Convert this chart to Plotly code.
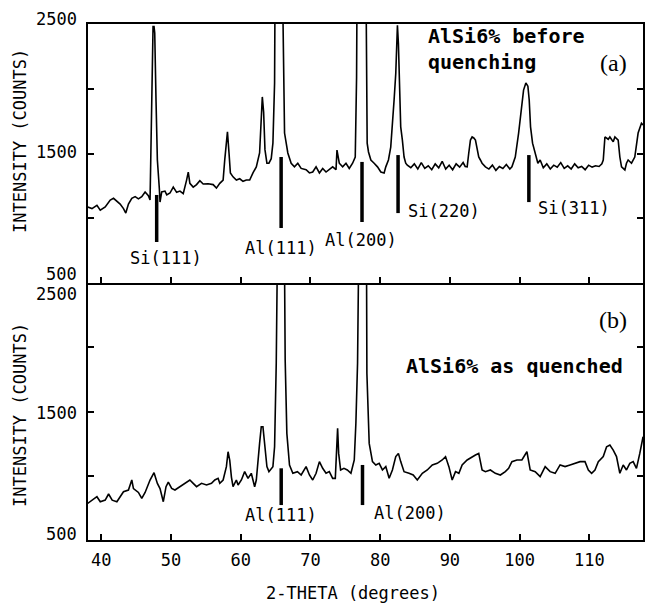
import plotly.graph_objects as go

# ---------------- data ----------------
two_theta_a = [38.05, 38.67, 39.38, 39.86, 40.57, 41.05, 41.29, 41.76, 42.24, 42.71, 43.19, 43.52, 43.90,
               44.38, 44.86, 45.33, 45.81, 46.29, 46.76, 47.00, 47.10, 47.29, 47.43, 47.57, 47.67, 47.86,
               48.05, 48.33, 48.43, 48.67, 49.14, 49.40, 49.86, 50.33, 50.81, 51.29, 51.76, 52.24, 52.48,
               52.71, 53.19, 53.67, 54.14, 54.62, 55.33, 56.05, 56.52, 57.00, 57.48, 57.71, 57.95, 58.10,
               58.33, 58.52, 58.90, 59.38, 59.86, 60.33, 60.81, 61.29, 61.76, 62.24, 62.71, 62.95, 63.10,
               63.29, 63.48, 63.76, 64.05, 64.38, 64.62, 64.86, 65.00, 65.50, 66.05, 66.29, 66.76, 67.24,
               67.71, 68.19, 68.67, 69.38, 69.86, 70.33, 70.81, 71.29, 71.76, 72.24, 73.19, 73.67, 73.81,
               74.14, 74.62, 75.10, 75.57, 76.05, 76.43, 76.62, 76.67, 77.30, 78.00, 78.05, 78.14, 78.33,
               78.67, 79.14, 79.62, 80.10, 80.57, 80.81, 81.19, 81.52, 81.76, 82.00, 82.24, 82.33, 82.48,
               82.62, 82.71, 82.95, 83.19, 83.43, 83.67, 83.90, 84.40, 84.90, 85.40, 85.90, 86.40, 86.90,
               87.40, 87.90, 88.40, 88.90, 89.40, 89.90, 90.40, 90.90, 91.40, 91.90, 92.20, 92.48, 92.71,
               92.95, 93.19, 93.43, 93.67, 93.90, 94.14, 94.38, 94.62, 95.10, 95.60, 96.10, 96.60, 97.10,
               97.60, 98.10, 98.60, 98.90, 99.38, 99.86, 100.24, 100.57, 100.90, 101.19, 101.38, 101.57,
               101.86, 102.24, 102.62, 102.95, 103.40, 103.90, 104.40, 104.90, 105.40, 105.90, 106.40,
               106.90, 107.40, 107.90, 108.40, 108.90, 109.40, 109.90, 110.40, 110.90, 111.40, 111.80,
               112.00, 112.24, 112.71, 112.95, 113.43, 113.67, 114.14, 114.38, 114.62, 115.10, 115.33,
               115.57, 116.05, 116.52, 117.00, 117.48, 117.71]
counts_a = [1087, 1075, 1100, 1062, 1087, 1120, 1141, 1154, 1128, 1110, 1075, 1040, 1110,
            1154, 1167, 1150, 1167, 1203, 1175, 1141, 1450, 2083, 2480, 2480, 2430, 1900,
            1450, 1230, 1125, 1203, 1210, 1180, 1195, 1241, 1200, 1210, 1190, 1295, 1357,
            1270, 1241, 1260, 1290, 1265, 1267, 1260, 1233, 1270, 1295, 1450, 1600, 1667,
            1500, 1350, 1320, 1295, 1305, 1285, 1295, 1295, 1350, 1397, 1504, 1733, 1937,
            1820, 1530, 1425, 1425, 1460, 1580, 2044, 2600, 9000, 2600, 1658, 1504, 1425,
            1397, 1425, 1385, 1375, 1350, 1357, 1397, 1350, 1385, 1357, 1397, 1375, 1527,
            1425, 1397, 1425, 1385, 1425, 1473, 2091, 2600, 9000, 2600, 1913, 1580, 1512,
            1450, 1425, 1397, 1357, 1350, 1397, 1450, 1550, 1706, 1913, 2118, 2350, 2490,
            2350, 2100, 1706, 1604, 1473, 1425, 1410, 1390, 1420, 1380, 1430, 1385, 1405,
            1375, 1420, 1390, 1440, 1380, 1410, 1375, 1420, 1395, 1430, 1400, 1397, 1504,
            1604, 1628, 1620, 1604, 1550, 1473, 1450, 1425, 1397, 1380, 1410, 1370, 1400,
            1385, 1415, 1380, 1397, 1473, 1658, 1860, 1990, 2044, 2020, 1913, 1706,
            1580, 1504, 1425, 1450, 1390, 1420, 1380, 1410, 1395, 1430, 1385,
            1405, 1380, 1420, 1390, 1400, 1375, 1410, 1395, 1405, 1400, 1420,
            1450, 1628, 1610, 1628, 1590, 1628, 1604, 1473, 1397, 1373, 1425,
            1450, 1425, 1473, 1658, 1733, 1720]

two_theta_b = [38.05, 38.67, 39.38, 39.86, 40.57, 41.05, 41.57, 42.24, 42.71, 43.19, 43.90, 44.38, 44.62,
               44.90, 45.33, 45.81, 46.29, 47.00, 47.57, 48.05, 48.43, 48.90, 49.29, 49.62, 50.10, 50.57,
               51.29, 52.00, 52.71, 53.19, 53.67, 54.38, 55.10, 55.81, 56.29, 56.76, 57.00, 57.48, 57.95,
               58.19, 58.43, 58.67, 58.90, 59.38, 59.62, 60.10, 60.57, 61.05, 61.52, 62.00, 62.24, 62.71,
               62.95, 63.19, 63.48, 63.76, 64.05, 64.62, 64.86, 65.10, 65.24, 65.75, 66.29, 66.38, 66.62,
               67.00, 67.48, 68.14, 68.67, 69.38, 69.86, 70.33, 70.81, 71.29, 71.76, 72.24, 72.71, 73.19,
               73.57, 73.76, 73.90, 74.05, 74.33, 74.81, 75.29, 75.81, 76.29, 76.52, 76.76, 76.90, 77.45,
               78.05, 78.10, 78.43, 78.90, 79.38, 79.86, 80.33, 80.81, 81.29, 81.76, 82.24, 82.62, 82.95,
               83.43, 84.14, 84.74, 85.33, 86.05, 86.76, 87.48, 88.19, 88.90, 89.38, 89.86, 90.33, 90.81,
               91.29, 91.76, 92.48, 93.19, 93.67, 94.14, 94.62, 95.10, 95.81, 96.52, 97.24, 97.95, 98.43,
               98.90, 99.62, 100.33, 101.05, 101.52, 102.24, 102.95, 103.67, 104.38, 105.10, 105.81,
               106.52, 107.24, 107.95, 108.67, 109.38, 109.86, 110.33, 110.81, 111.29, 112.00, 112.48,
               112.95, 113.43, 113.90, 114.38, 114.86, 115.33, 115.81, 116.29, 116.76, 117.24, 117.71]
counts_b = [785, 811, 837, 798, 811, 858, 810, 798, 837, 876, 889, 967, 900,
            889, 870, 824, 870, 967, 1024, 940, 900, 798, 915, 950, 902, 889,
            915, 935, 967, 941, 915, 941, 928, 941, 967, 980, 941, 967, 1071,
            1187, 1120, 990, 915, 967, 928, 967, 1032, 980, 1019, 915, 967, 1252,
            1382, 1382, 1226, 1071, 1032, 1071, 1226, 1875, 2600, 9000, 2600, 1901, 1330,
            1084, 1019, 1032, 1006, 1071, 1006, 967, 1019, 1110, 1058, 1019, 1032, 980,
            980, 1187, 1369, 1174, 1045, 1058, 1045, 1019, 1123, 1408, 1875, 2600, 9000,
            2600, 1797, 1252, 1110, 1084, 1097, 1045, 1071, 980, 1045, 1149, 1174, 1110,
            1032, 1019, 1006, 967, 1019, 1045, 1084, 1097, 1123, 1149, 1071, 967, 1032,
            1019, 1084, 1123, 1149, 1162, 1174, 1045, 1032, 1045, 1019, 1006, 1032, 1058,
            1110, 1123, 1123, 1187, 1045, 1032, 993, 1071, 1032, 1019, 1084,
            1071, 1084, 1097, 1110, 1110, 1045, 1019, 1045, 1110, 1149, 1226,
            1239, 1200, 1149, 1019, 1084, 1045, 1097, 1110, 1058, 1174, 1304]

# peak assignment markers, panel (a)
peaks_a_pos = [47.95, 65.8, 77.4, 82.57, 101.33]
peaks_a_top = [1180, 1473, 1435, 1488, 1488]
peaks_a_bottom = [817, 925, 971, 1040, 1125]
peaks_a_label = ["Si(111)", "Al(111)", "Al(200)", "Si(220)", "Si(311)"]
peaks_a_label_x = [49.26, 65.8, 77.2, 89.14, 107.83]
peaks_a_label_y = [696, 768, 832, 1058, 1077]

# peak assignment markers, panel (b)
peaks_b_pos = [65.81, 77.47]
peaks_b_top = [1058, 1084]
peaks_b_bottom = [772, 772]
peaks_b_label = ["Al(111)", "Al(200)"]
peaks_b_label_x = [65.8, 84.26]
peaks_b_label_y = [695, 708]

x_ticks = [40, 50, 60, 70, 80, 90, 100, 110]
y_ticks = [500, 1000, 1500, 2000, 2500]
y_tick_labels = ["2500", "1500", "500"]
y_tick_label_vals = [2500, 1500, 500]

# ---------------- figure ----------------
MONO = "DejaVu Sans Mono"
fig = go.Figure()

fig.add_trace(go.Scatter(x=two_theta_a, y=counts_a, xaxis="x2", yaxis="y2", mode="lines",
                         line=dict(color="black", width=1.6), hoverinfo="skip"))
fig.add_trace(go.Scatter(x=two_theta_b, y=counts_b, xaxis="x", yaxis="y", mode="lines",
                         line=dict(color="black", width=1.6), hoverinfo="skip"))

for p, t, b in zip(peaks_a_pos, peaks_a_top, peaks_a_bottom):
    fig.add_trace(go.Scatter(x=[p, p], y=[b, t], xaxis="x2", yaxis="y2", mode="lines",
                             line=dict(color="black", width=3.5), hoverinfo="skip"))
for p, t, b in zip(peaks_b_pos, peaks_b_top, peaks_b_bottom):
    fig.add_trace(go.Scatter(x=[p, p], y=[b, t], xaxis="x", yaxis="y", mode="lines",
                             line=dict(color="black", width=3.5), hoverinfo="skip"))

ann = []
for lab, lx, ly in zip(peaks_a_label, peaks_a_label_x, peaks_a_label_y):
    ann.append(dict(x=lx, y=ly, xref="x2", yref="y2", text=lab, showarrow=False,
                    font=dict(family=MONO, size=17, color="black")))
for lab, lx, ly in zip(peaks_b_label, peaks_b_label_x, peaks_b_label_y):
    ann.append(dict(x=lx, y=ly, xref="x", yref="y", text=lab, showarrow=False,
                    font=dict(family=MONO, size=17, color="black")))

# y tick labels (edge labels nudged inward as in the reference)
shifts_a = [5, 2, 9]
shifts_b = [-11, -1, 6]
for lab, v, s in zip(y_tick_labels, y_tick_label_vals, shifts_a):
    ann.append(dict(x=0, y=v, xref="paper", yref="y2", text=lab, showarrow=False,
                    xanchor="right", yanchor="middle", xshift=-9, yshift=s,
                    font=dict(family=MONO, size=17, color="black")))
for lab, v, s in zip(y_tick_labels, y_tick_label_vals, shifts_b):
    ann.append(dict(x=0, y=v, xref="paper", yref="y", text=lab, showarrow=False,
                    xanchor="right", yanchor="middle", xshift=-9, yshift=s,
                    font=dict(family=MONO, size=17, color="black")))

# axis titles
for yy in [0.7733, 0.2422]:
    ann.append(dict(x=0, y=yy, xref="paper", yref="paper", text="INTENSITY (COUNTS)",
                    textangle=-90, showarrow=False, xshift=-68,
                    xanchor="center", yanchor="middle",
                    font=dict(family=MONO, size=17, color="black")))
ann.append(dict(x=0.4776, y=0, xref="paper", yref="paper", text="2-THETA (degrees)",
                showarrow=False, yshift=-53, xanchor="center", yanchor="middle",
                font=dict(family=MONO, size=17, color="black")))

# panel texts
ann.append(dict(x=86.57, y=2307, xref="x2", yref="y2", text="AlSi6% before<br>quenching",
                showarrow=False, xanchor="left", yanchor="middle", align="left",
                font=dict(family=MONO, size=20, color="black", weight="bold")))
ann.append(dict(x=113.43, y=2199, xref="x2", yref="y2", text="(a)", showarrow=False,
                xanchor="center", yanchor="middle",
                font=dict(family="Liberation Serif", size=24, color="black")))
ann.append(dict(x=113.43, y=2212, xref="x", yref="y", text="(b)", showarrow=False,
                xanchor="center", yanchor="middle",
                font=dict(family="Liberation Serif", size=24, color="black")))
ann.append(dict(x=115.14, y=1854, xref="x", yref="y", text="AlSi6% as quenched",
                showarrow=False, xanchor="right", yanchor="middle",
                font=dict(family=MONO, size=20, color="black", weight="bold")))

xcommon = dict(range=[38.1, 117.7], tickvals=x_ticks, ticks="inside", ticklen=6, tickwidth=1.5,
               tickcolor="black", showline=True, linewidth=2, linecolor="black",
               showgrid=False, zeroline=False)
ycommon = dict(range=[500, 2500], tickvals=y_ticks, ticks="inside", ticklen=6, tickwidth=1.5,
               tickcolor="black", showline=True, linewidth=2, linecolor="black", mirror="ticks",
               showgrid=False, zeroline=False, showticklabels=False)

fig.update_layout(
    width=645, height=604,
    margin=dict(l=88, r=0, t=24, b=64),
    plot_bgcolor="white", paper_bgcolor="white",
    showlegend=False,
    xaxis=dict(domain=[0, 1], anchor="y", mirror=False,
               tickfont=dict(family=MONO, size=17, color="black"),
               ticklabelstandoff=4, **xcommon),
    xaxis2=dict(domain=[0, 1], anchor="y2", matches="x", mirror=True, showticklabels=False, **xcommon),
    yaxis=dict(domain=[0, 0.498], anchor="x", **ycommon),
    yaxis2=dict(domain=[0.498, 1], anchor="x2", **ycommon),
    annotations=ann,
)

fig.write_html("out.html", config={"displayModeBar": False},
               post_script="document.body.style.margin='0';document.body.style.padding='0';"
                           "document.body.style.overflow='hidden';")
